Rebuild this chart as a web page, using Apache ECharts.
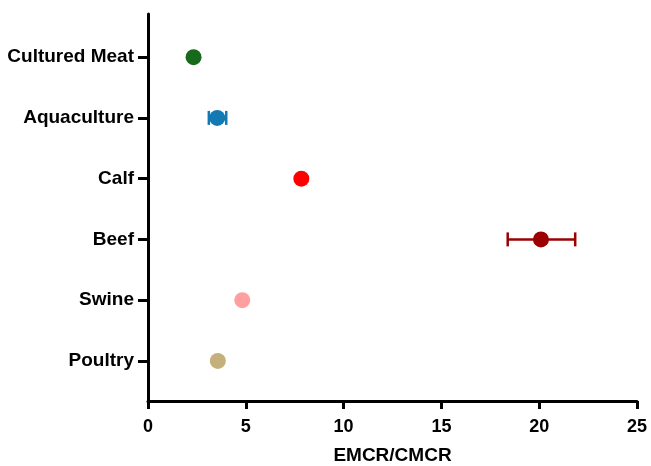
<!DOCTYPE html>
<html>
<head>
<meta charset="utf-8">
<script src="https://cdn.jsdelivr.net/npm/echarts@6/dist/echarts.min.js"></script>
<style>
  * { margin: 0; padding: 0; }
  body { background: #fff; }
</style>
</head>
<body>
<!-- chart container -->
<div id="main" style="width: 651px;height: 466px;"></div>
<script>
  // categories listed bottom to top
  var categories = ['Poultry', 'Swine', 'Beef', 'Calf', 'Aquaculture', 'Cultured Meat'];
  var values = [3.57, 4.82, 20.09, 7.84, 3.54, 2.33];
  var errLow = [null, null, 18.39, null, 3.11, null];
  var errHigh = [null, null, 21.84, null, 4.0, null];
  var colors = ['#c3b07a', '#ff9f9f', '#9c0000', '#ff0000', '#1279b5', '#17691b'];
  var xTicks = [0, 5, 10, 15, 20, 25];

  var font = "'Liberation Sans', Arial, sans-serif";
  var catPos = categories.map(function (c, i) { return i + 1; });

  var points = values.map(function (v, i) {
    return { value: [v, catPos[i]], itemStyle: { color: colors[i], opacity: 1 } };
  });
  var bars = [];
  errLow.forEach(function (lo, i) {
    if (lo != null) bars.push({ value: [lo, errHigh[i], catPos[i]], itemStyle: { color: colors[i] } });
  });

  var chart = echarts.init(document.getElementById('main'));
  chart.setOption({
    animation: false,
    grid: { left: 148, right: 14, top: 14, bottom: 65, outerBoundsMode: 'none' },
    xAxis: {
      type: 'value',
      min: xTicks[0],
      max: xTicks[xTicks.length - 1],
      interval: 5,
      name: 'EMCR/CMCR',
      nameLocation: 'middle',
      nameGap: 45,
      nameTextStyle: { fontFamily: font, fontWeight: 'bold', fontSize: 19, color: '#000' },
      axisLine: { lineStyle: { color: '#000', width: 3 } },
      axisTick: { length: 8, lineStyle: { color: '#000', width: 3 } },
      axisLabel: { margin: 17, fontFamily: font, fontWeight: 'bold', fontSize: 18, color: '#000' },
      splitLine: { show: false }
    },
    yAxis: {
      type: 'value',
      min: 0.34,
      max: 6.71,
      axisLine: { show: true, lineStyle: { color: '#000', width: 3 } },
      axisTick: { show: true, customValues: catPos, length: 10, lineStyle: { color: '#000', width: 3 } },
      axisLabel: {
        customValues: catPos,
        margin: 14,
        fontFamily: font, fontWeight: 'bold', fontSize: 19, color: '#000',
        formatter: function (v) { return categories[Math.round(v) - 1]; }
      },
      splitLine: { show: false }
    },
    series: [
      {
        type: 'custom',
        data: bars,
        z: 1,
        renderItem: function (params, api) {
          var y = api.value(2);
          var a = api.coord([api.value(0), y]);
          var b = api.coord([api.value(1), y]);
          var h = 7;
          var st = { stroke: api.visual('color'), lineWidth: 2.5 };
          return {
            type: 'group',
            children: [
              { type: 'line', shape: { x1: a[0], y1: a[1], x2: b[0], y2: b[1] }, style: st },
              { type: 'line', shape: { x1: a[0], y1: a[1] - h, x2: a[0], y2: a[1] + h }, style: st },
              { type: 'line', shape: { x1: b[0], y1: b[1] - h, x2: b[0], y2: b[1] + h }, style: st }
            ]
          };
        }
      },
      {
        type: 'scatter',
        symbol: 'circle',
        symbolSize: 16,
        z: 2,
        itemStyle: { opacity: 1 },
        data: points
      }
    ]
  });
</script>
</body>
</html>
